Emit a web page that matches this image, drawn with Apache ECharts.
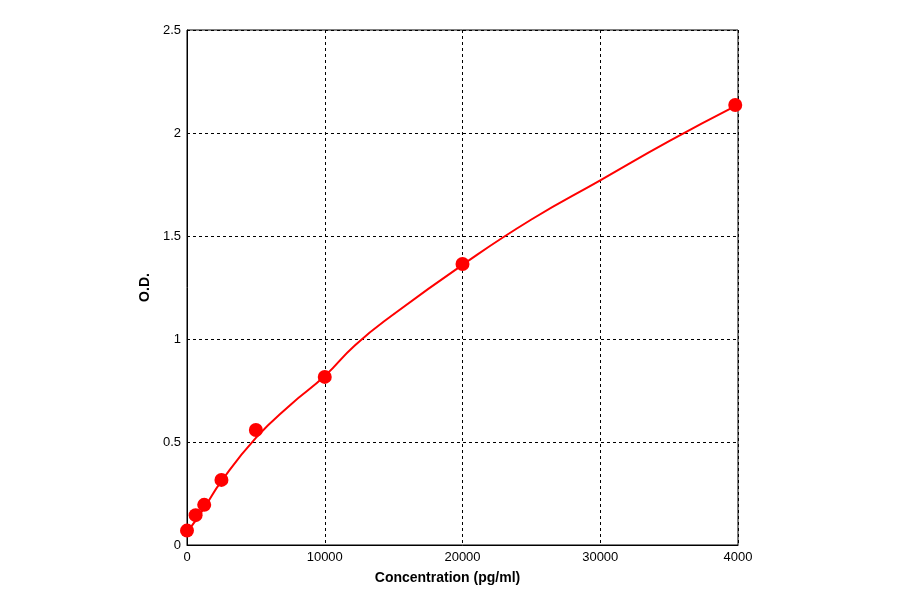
<!DOCTYPE html>
<html><head><meta charset="utf-8">
<script src="https://cdn.jsdelivr.net/npm/echarts@6/dist/echarts.min.js"></script>
<style>html,body{margin:0;background:#fff}#c{width:900px;height:594px}</style>
</head><body><div id="c"></div>
<script>
const concentrations = [0, 625, 1250, 2500, 5000, 10000, 20000, 39800];
const odValues = [0.07, 0.145, 0.195, 0.316, 0.558, 0.816, 1.364, 2.136];
const curveX = [0, 1250, 2500, 5000, 7500, 10000, 12200, 15000, 20000, 25000, 30000, 35000, 39800];
const curveY = [0.06, 0.18, 0.31, 0.52, 0.68, 0.82, 0.97, 1.12, 1.36, 1.58, 1.77, 1.96, 2.13];
const xTickLabels = {0:'0',10000:'10000',20000:'20000',30000:'30000',40000:'4000'};
const pts = concentrations.map((c,i)=>[c,odValues[i]]);
const curve = curveX.map((c,i)=>[c,curveY[i]]);
const chart = echarts.init(document.getElementById('c'));
const font = 'Liberation Sans, Arial, sans-serif';
chart.setOption({
  animation:false,
  grid:{left:187,top:30,width:551,height:515,show:true,borderColor:'#000',borderWidth:1},
  xAxis:{type:'value',min:0,max:40000,interval:10000,
    name:'Concentration (pg/ml)',nameLocation:'middle',nameGap:26,
    nameTextStyle:{fontFamily:font,fontWeight:'bold',fontSize:14,color:'#000',padding:[0,30,0,0]},
    axisLine:{show:true,lineStyle:{color:'#000'}},axisTick:{show:false},
    axisLabel:{fontFamily:font,fontSize:13,color:'#000',margin:6,formatter:v=>xTickLabels[v]},
    splitLine:{lineStyle:{color:'#000',type:[3,3]}}},
  yAxis:{type:'value',min:0,max:2.5,interval:0.5,
    name:'O.D.',nameLocation:'middle',nameGap:32,
    nameTextStyle:{fontFamily:font,fontWeight:'bold',fontSize:14,color:'#000'},
    axisLine:{show:true,lineStyle:{color:'#000'}},axisTick:{show:false},
    axisLabel:{fontFamily:font,fontSize:13,color:'#000',margin:6},
    splitLine:{lineStyle:{color:'#000',type:[3,3]}}},
  series:[
    {type:'line',data:curve,smooth:0.5,symbol:'none',lineStyle:{color:'#ff0000',width:2}},
    {type:'scatter',data:pts,symbolSize:14,itemStyle:{color:'#ff0000',opacity:1}}
  ]
});
</script></body></html>
